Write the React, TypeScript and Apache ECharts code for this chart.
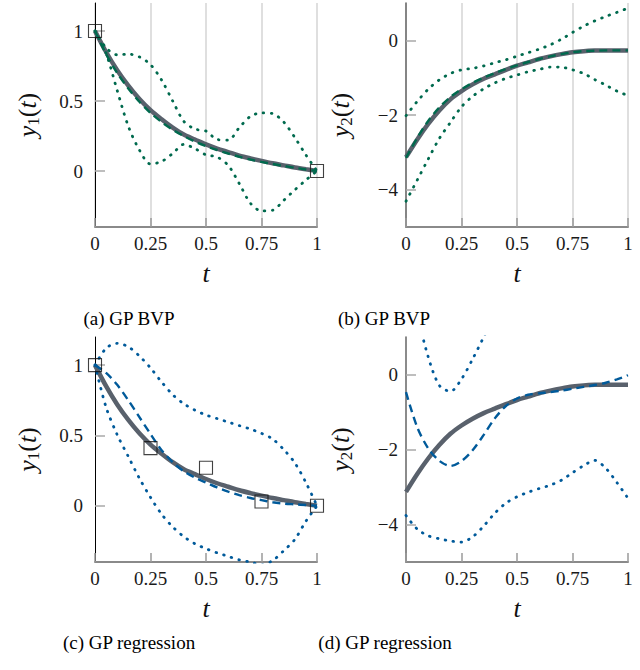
import React, { useEffect, useRef } from "react";
import * as echarts from "echarts";

// sample grid in t
const T = [0, 0.05, 0.1, 0.15, 0.2, 0.25, 0.3, 0.35, 0.4, 0.45, 0.5, 0.55, 0.6, 0.65, 0.7, 0.75, 0.8, 0.85, 0.9, 0.95, 1];
const T_PARTIAL = [0, 0.05, 0.1, 0.15, 0.2, 0.25, 0.3, 0.35, 0.4, 0.45];

// true solution
const y1True = [1.0, 0.85, 0.72, 0.61, 0.515, 0.435, 0.37, 0.31, 0.26, 0.225, 0.19, 0.16, 0.135, 0.11, 0.09, 0.072, 0.055, 0.04, 0.025, 0.012, 0];
const y2True = [-3.13, -2.66, -2.24, -1.88, -1.58, -1.36, -1.18, -1.03, -0.91, -0.79, -0.68, -0.59, -0.5, -0.43, -0.37, -0.32, -0.29, -0.275, -0.27, -0.27, -0.27];

// (a) GP BVP, y1
const bvpY1Mean = [1.0, 0.835, 0.7, 0.59, 0.495, 0.415, 0.35, 0.295, 0.25, 0.21, 0.178, 0.15, 0.125, 0.102, 0.082, 0.065, 0.05, 0.036, 0.023, 0.011, 0];
const bvpY1SampleA = [1.0, 0.88, 0.83, 0.835, 0.815, 0.76, 0.65, 0.5, 0.355, 0.3, 0.285, 0.225, 0.22, 0.31, 0.39, 0.415, 0.41, 0.35, 0.24, 0.115, 0];
const bvpY1SampleB = [1.0, 0.84, 0.575, 0.32, 0.15, 0.05, 0.068, 0.125, 0.19, 0.16, 0.115, 0.1, 0.04, -0.09, -0.23, -0.285, -0.28, -0.21, -0.135, -0.065, 0];
const bvpObsT = [0, 1];
const bvpObsY = [1, 0];

// (b) GP BVP, y2
const bvpY2Mean = [-3.15, -2.62, -2.16, -1.8, -1.52, -1.31, -1.14, -1.0, -0.88, -0.77, -0.67, -0.58, -0.5, -0.43, -0.37, -0.32, -0.29, -0.28, -0.27, -0.27, -0.27];
const bvpY2Upper = [-2.02, -1.64, -1.31, -1.06, -0.89, -0.79, -0.75, -0.685, -0.6, -0.52, -0.425, -0.33, -0.235, -0.12, 0.03, 0.21, 0.38, 0.52, 0.64, 0.75, 0.86];
const bvpY2Lower = [-4.31, -3.75, -3.18, -2.63, -2.2, -1.78, -1.5, -1.3, -1.14, -1.02, -0.93, -0.84, -0.78, -0.715, -0.72, -0.79, -0.89, -1.05, -1.2, -1.36, -1.48];

// (c) GP regression, y1
const regY1Mean = [1.0, 0.945, 0.86, 0.75, 0.63, 0.51, 0.395, 0.31, 0.245, 0.2, 0.165, 0.13, 0.1, 0.075, 0.055, 0.04, 0.025, 0.015, 0.01, 0.005, 0];
const regY1Upper = [1.0, 1.12, 1.155, 1.13, 1.065, 0.98, 0.88, 0.79, 0.725, 0.68, 0.645, 0.62, 0.595, 0.57, 0.545, 0.515, 0.475, 0.4, 0.305, 0.165, 0];
const regY1Lower = [1.0, 0.7, 0.505, 0.35, 0.195, 0.06, -0.06, -0.15, -0.22, -0.27, -0.305, -0.335, -0.36, -0.385, -0.4, -0.42, -0.39, -0.32, -0.24, -0.11, 0];
const regObsT = [0, 0.25, 0.5, 0.75, 1];
const regObsY = [1, 0.41, 0.27, 0.03, 0];

// (d) GP regression, y2
const regY2Mean = [-0.47, -1.4, -1.97, -2.3, -2.44, -2.31, -2.02, -1.61, -1.17, -0.84, -0.64, -0.54, -0.5, -0.47, -0.43, -0.38, -0.33, -0.28, -0.22, -0.13, -0.02];
const regY2Upper = [3.2, 1.65, 0.47, -0.29, -0.45, -0.12, 0.41, 1.0, 1.6, 2.2];
const regY2Lower = [-3.76, -4.12, -4.3, -4.38, -4.44, -4.47, -4.33, -4.04, -3.7, -3.43, -3.26, -3.14, -3.04, -2.95, -2.82, -2.62, -2.43, -2.29, -2.5, -2.88, -3.3];

// axis ticks
const xTicks = [0, 0.25, 0.5, 0.75, 1];
const y1Ticks = [0, 0.5, 1];
const y2Ticks = [-4, -2, 0];

const captions = ["(a) GP BVP", "(b) GP BVP", "(c) GP regression", "(d) GP regression"];

const GREEN = "#006a4e";
const BLUE = "#005a9a";
const GRAY = "#59616c";
const SERIF = "Liberation Serif";

function pts(ts: number[], ys: number[]) {
  return ys.map((y, i) => [ts[i], y]);
}

function trueLine(idx: number, ys: number[]) {
  return {
    type: "line",
    xAxisIndex: idx,
    yAxisIndex: idx,
    data: pts(T, ys),
    smooth: 0.3,
    symbol: "none",
    lineStyle: { color: GRAY, width: 4.5 },
    z: 1,
  };
}
function dashLine(idx: number, ys: number[], color: string) {
  return {
    type: "line",
    xAxisIndex: idx,
    yAxisIndex: idx,
    data: pts(T, ys),
    smooth: 0.3,
    symbol: "none",
    lineStyle: { color, width: 2.4, type: [8, 5] },
    z: 3,
  };
}
function dotLine(idx: number, ts: number[], ys: number[], color: string) {
  return {
    type: "line",
    xAxisIndex: idx,
    yAxisIndex: idx,
    data: pts(ts, ys),
    smooth: 0.3,
    symbol: "none",
    clip: true,
    lineStyle: { color, width: 2.8, type: [0.6, 7.4], cap: "round" },
    z: 2,
  };
}
function obs(idx: number, ts: number[], ys: number[]) {
  return {
    type: "scatter",
    xAxisIndex: idx,
    yAxisIndex: idx,
    data: pts(ts, ys),
    symbol: "rect",
    symbolSize: 13,
    clip: false,
    itemStyle: { color: "rgba(0,0,0,0)", borderColor: "#111", borderWidth: 1.1 },
    z: 5,
  };
}

const nameRich = {
  i: { fontFamily: SERIF, fontStyle: "italic", fontSize: 26, lineHeight: 30, color: "#111", verticalAlign: "middle" },
  n: { fontFamily: SERIF, fontSize: 26, lineHeight: 30, color: "#111", verticalAlign: "middle" },
  s: { fontFamily: SERIF, fontSize: 17, lineHeight: 17, color: "#111", verticalAlign: "bottom" },
};

export default function App() {
  const ref = useRef<HTMLDivElement>(null);
  useEffect(() => {
    const chart = echarts.init(ref.current!, null, { renderer: "svg" });
    const grids = [
      { left: 95, top: 3, width: 222, height: 224 },
      { left: 406, top: 3, width: 222, height: 224 },
      { left: 95, top: 337, width: 222, height: 225 },
      { left: 406, top: 337, width: 222, height: 225 },
    ];
    const xAxis = grids.map((_, i) => ({
      gridIndex: i,
      type: "value",
      min: 0,
      max: 1,
      interval: 0.25,
      name: "{i|t}",
      nameLocation: "middle",
      nameGap: 31,
      nameTextStyle: { fontFamily: SERIF, rich: nameRich },
      axisLine: { show: true, onZero: false, lineStyle: { color: "#8a8a8a", width: 2 } },
      axisTick: { show: true, inside: true, length: 9, customValues: xTicks, lineStyle: { color: "#9a9a9a", width: 1.5 } },
      splitLine: { show: i < 2, lineStyle: { color: "#d4d4d4", width: 1.5 } },
      axisLabel: {
        customValues: xTicks,
        formatter: (v: number) => String(v),
        fontFamily: SERIF,
        fontSize: 19,
        color: "#1a1a1a",
        margin: 7,
      },
    }));
    const yAxis = grids.map((_, i) => {
      const isY1 = i % 2 === 0;
      const ticks = isY1 ? y1Ticks : y2Ticks;
      return {
        gridIndex: i,
        type: "value",
        min: isY1 ? -0.4 : -5,
        max: isY1 ? 1.2 : 1,
        name: isY1 ? "{i|y}{s|1}{n|(}{i|t}{n|)}" : "{i|y}{s|2}{n|(}{i|t}{n|)}",
        nameLocation: "middle",
        nameRotate: 90,
        nameGap: isY1 ? 53 : 51,
        nameTextStyle: { fontFamily: SERIF, rich: nameRich },
        axisLine: { show: true, onZero: false, lineStyle: { color: isY1 ? "#000" : "#6e6e6e", width: isY1 ? 1 : 1.6 } },
        axisTick: { show: true, inside: true, length: 10, customValues: ticks, lineStyle: { color: "#a8a8a8", width: 1.5 } },
        splitLine: { show: false },
        axisLabel: {
          customValues: ticks,
          formatter: (v: number) => String(v).replace("-", "\u2212"),
          fontFamily: SERIF,
          fontSize: 19,
          color: "#1a1a1a",
          margin: isY1 ? 12 : 8,
        },
      };
    });
    const series = [
      trueLine(0, y1True),
      dashLine(0, bvpY1Mean, GREEN),
      dotLine(0, T, bvpY1SampleA, GREEN),
      dotLine(0, T, bvpY1SampleB, GREEN),
      obs(0, bvpObsT, bvpObsY),

      trueLine(1, y2True),
      dashLine(1, bvpY2Mean, GREEN),
      dotLine(1, T, bvpY2Upper, GREEN),
      dotLine(1, T, bvpY2Lower, GREEN),

      trueLine(2, y1True),
      dashLine(2, regY1Mean, BLUE),
      dotLine(2, T, regY1Upper, BLUE),
      dotLine(2, T, regY1Lower, BLUE),
      obs(2, regObsT, regObsY),

      trueLine(3, y2True),
      dashLine(3, regY2Mean, BLUE),
      dotLine(3, T_PARTIAL, regY2Upper, BLUE),
      dotLine(3, T, regY2Lower, BLUE),
    ];
    const capPos = [
      [129, 318],
      [384, 318],
      [129, 642],
      [385, 642],
    ];
    const graphic = captions.map((c, i) => ({
      type: "text",
      x: capPos[i][0],
      y: capPos[i][1],
      style: {
        text: c,
        font: '19px "Liberation Serif"',
        fill: "#000",
        textAlign: "center",
        textVerticalAlign: "middle",
      },
    }));
    chart.setOption({
      animation: false,
      backgroundColor: "#fff",
      textStyle: { fontFamily: SERIF },
      grid: grids,
      xAxis,
      yAxis,
      series,
      graphic,
    } as any);
    return () => chart.dispose();
  }, []);
  return <div ref={ref} style={{ position: "fixed", left: 0, top: 0, width: 640, height: 670 }} />;
}
